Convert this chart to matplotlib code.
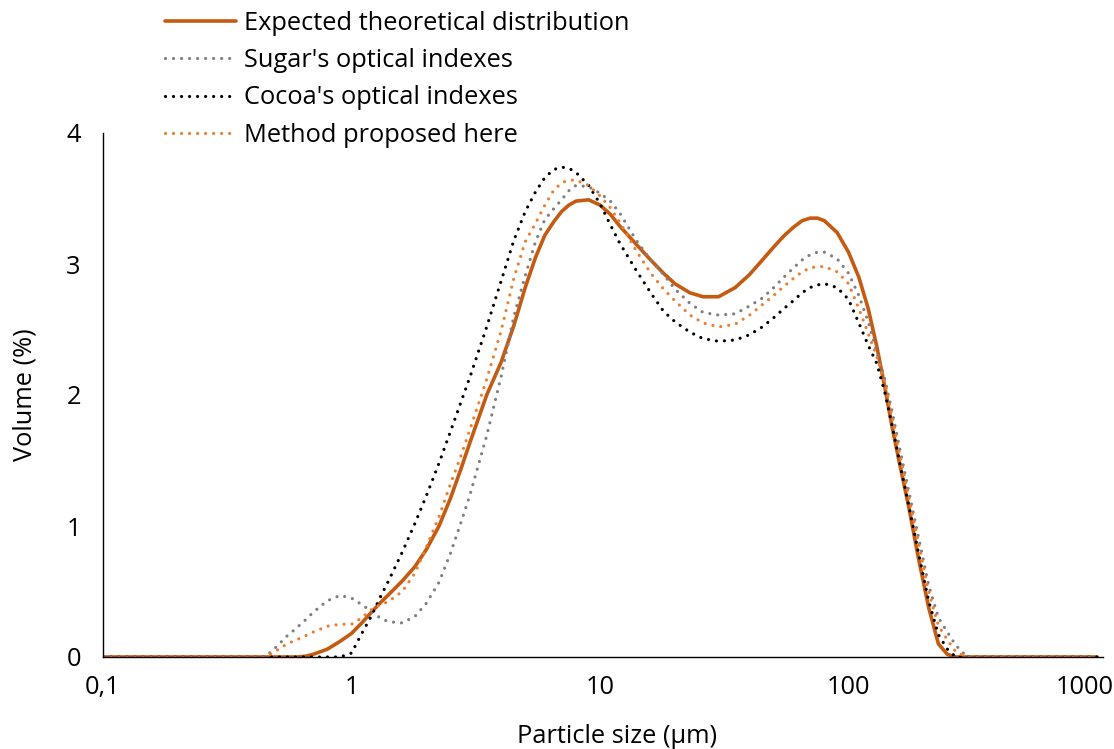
import matplotlib
matplotlib.use("Agg")
import matplotlib.pyplot as plt
import matplotlib.transforms as mtransforms
from matplotlib.ticker import FixedLocator, FixedFormatter, NullLocator

# Particle sizes (µm)
size_um = [0.1, 0.2, 0.3, 0.4, 0.45, 0.5, 0.55, 0.6, 0.65, 0.7, 0.8, 0.9, 1.0, 1.1, 1.2, 1.3,
           1.4, 1.6, 1.8, 2.0, 2.25, 2.5, 2.75, 3.0, 3.5, 4.0, 4.5, 5.0, 5.5, 6.0, 6.5, 7.0,
           7.5, 8.0, 9.0, 10, 11, 12, 14, 16, 18, 20, 23, 26, 30, 35, 40, 45, 50, 55, 60, 65, 70,
           75, 80, 90, 100, 110, 120, 130, 140, 150, 160, 175, 190, 210, 230, 250, 270, 300,
           500, 1000]

expected = [0, 0, 0, 0, 0, 0, 0, 0, 0.005, 0.02, 0.06, 0.12, 0.18, 0.26, 0.34, 0.41,
            0.47, 0.58, 0.69, 0.82, 1.0, 1.21, 1.43, 1.64, 2.0, 2.25, 2.53, 2.82, 3.05, 3.22, 3.32, 3.40,
            3.45, 3.48, 3.49, 3.45, 3.38, 3.29, 3.15, 3.03, 2.93, 2.85, 2.78, 2.75, 2.75, 2.82, 2.92, 3.03, 3.13, 3.215, 3.28, 3.33, 3.35,
            3.35, 3.33, 3.24, 3.09, 2.90, 2.66, 2.37, 2.06, 1.75, 1.49, 1.14, 0.78, 0.38, 0.10, 0.02, 0, 0,
            0, 0]

sugar = [0, 0, 0, 0, 0, 0.08, 0.16, 0.22, 0.28, 0.34, 0.43, 0.47, 0.45, 0.40, 0.35, 0.30,
         0.27, 0.26, 0.31, 0.41, 0.57, 0.79, 1.02, 1.24, 1.69, 2.14, 2.60, 2.91, 3.17, 3.34, 3.42, 3.49,
         3.56, 3.60, 3.59, 3.54, 3.48, 3.39, 3.18, 3.03, 2.92, 2.81, 2.70, 2.63, 2.61, 2.62, 2.68, 2.74, 2.82, 2.90, 2.97, 3.03, 3.07,
         3.09, 3.09, 3.04, 2.93, 2.76, 2.56, 2.33, 2.12, 1.87, 1.61, 1.26, 0.94, 0.55, 0.30, 0.19, 0.09, 0,
         0, 0]

cocoa = [0, 0, 0, 0, 0, 0, 0, 0, 0, 0, 0, 0, 0.03, 0.18, 0.31, 0.45,
         0.57, 0.80, 1.02, 1.23, 1.48, 1.72, 1.94, 2.14, 2.52, 2.87, 3.18, 3.40, 3.55, 3.66, 3.72, 3.74,
         3.73, 3.70, 3.60, 3.46, 3.30, 3.16, 2.95, 2.78, 2.64, 2.56, 2.48, 2.43, 2.41, 2.42, 2.46, 2.52, 2.59, 2.66, 2.72, 2.78, 2.82,
         2.84, 2.85, 2.82, 2.73, 2.55, 2.38, 2.24, 2.02, 1.76, 1.50, 1.15, 0.82, 0.43, 0.17, 0.06, 0, 0,
         0, 0]

method = [0, 0, 0, 0, 0, 0.05, 0.10, 0.13, 0.16, 0.19, 0.235, 0.25, 0.25, 0.30, 0.36, 0.40,
          0.42, 0.50, 0.64, 0.84, 1.07, 1.32, 1.53, 1.74, 2.12, 2.49, 2.89, 3.17, 3.31, 3.45, 3.56, 3.62,
          3.64, 3.64, 3.60, 3.52, 3.43, 3.32, 3.10, 2.93, 2.81, 2.72, 2.61, 2.55, 2.52, 2.54, 2.61, 2.69, 2.76, 2.83, 2.89, 2.94, 2.97,
          2.98, 2.98, 2.94, 2.85, 2.66, 2.47, 2.29, 2.10, 1.83, 1.57, 1.22, 0.90, 0.50, 0.24, 0.13, 0.04, 0,
          0, 0]

series_labels = ["Expected theoretical distribution", "Sugar's optical indexes",
                 "Cocoa's optical indexes", "Method proposed here"]
x_ticks = [0.1, 1, 10, 100, 1000]
x_tick_labels = ["0,1", "1", "10", "100", "1000"]
y_ticks = [0, 1, 2, 3, 4]

FONT = "Open Sans"
FS = 18.3

fig = plt.figure(figsize=(11.14, 7.49), dpi=100)
ax = fig.add_axes([103 / 1114, 1 - 657 / 749, 1000 / 1114, 524 / 749])

dot = (0, (0.01, 2.5))
ax.plot(size_um, expected, color="#C55A11", lw=2.6, label=series_labels[0], solid_capstyle="round")
ax.plot(size_um, sugar, color="#7F7F7F", lw=2.3, linestyle=dot, dash_capstyle="round", label=series_labels[1])
ax.plot(size_um, cocoa, color="#000000", lw=2.3, linestyle=dot, dash_capstyle="round", label=series_labels[2])
ax.plot(size_um, method, color="#ED7D31", lw=2.3, linestyle=dot, dash_capstyle="round", label=series_labels[3])

ax.set_xscale("log")
ax.set_xlim(0.1, 1057)
ax.set_ylim(0, 4)
ax.xaxis.set_major_locator(FixedLocator(x_ticks))
ax.xaxis.set_major_formatter(FixedFormatter(x_tick_labels))
ax.xaxis.set_minor_locator(NullLocator())
ax.set_yticks(y_ticks)
ax.set_yticklabels([str(v) for v in y_ticks])
ax.tick_params(axis="both", length=0, labelsize=FS, colors="#000000")
ax.tick_params(axis="y", pad=16)
ax.tick_params(axis="x", pad=13)
for lab in ax.get_xticklabels() + ax.get_yticklabels():
    lab.set_fontfamily(FONT)
last = ax.get_xticklabels()[-1]
last.set_transform(last.get_transform() + mtransforms.ScaledTranslation(-0.12, 0, fig.dpi_scale_trans))

for s in ["top", "right"]:
    ax.spines[s].set_visible(False)
for s in ["left", "bottom"]:
    ax.spines[s].set_color("#000000")
    ax.spines[s].set_linewidth(1.0)

ax.set_xlabel("Particle size (µm)", fontsize=FS, family=FONT)
ax.set_ylabel("Volume (%)", fontsize=FS, family=FONT)
ax.xaxis.set_label_coords(0.514, -0.128)
ax.yaxis.set_label_coords(-0.065, 0.5)

leg = ax.legend(loc="upper left", bbox_to_anchor=(162 / 1114, 1 - 8 / 749), bbox_transform=fig.transFigure,
                frameon=False, prop={"family": FONT, "size": FS}, handlelength=2.83,
                handletextpad=0.31, labelspacing=0.49, borderpad=0.1, borderaxespad=0)

fig.savefig("out.png", dpi=100)
